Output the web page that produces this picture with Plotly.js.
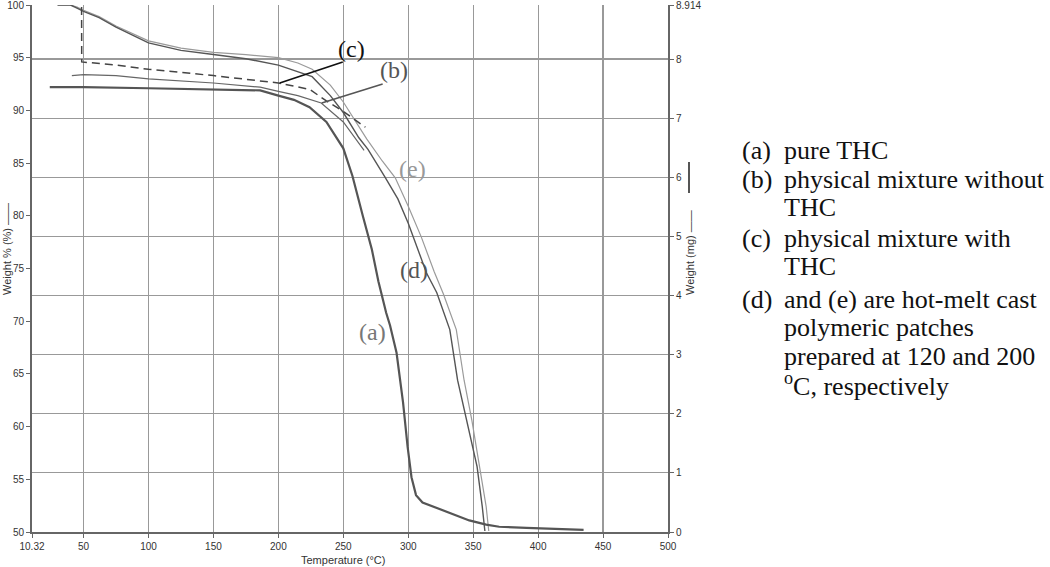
<!DOCTYPE html>
<html>
<head>
<meta charset="utf-8">
<script src="https://cdn.plot.ly/plotly-3.0.1.min.js"></script>
<style>
  html, body { margin: 0; padding: 0; background: #fff; }
  #tga { width: 1050px; height: 567px; }
</style>
</head>
<body>
<div id="tga"></div>
<script>
// TGA curves, temperature (°C) vs weight %
const tempA = [24, 50, 100, 150, 186, 200, 212, 224, 237, 250, 257, 265, 272, 277, 283, 286, 291, 296, 299.5, 302.5, 306, 311, 330, 347, 360, 370, 391, 435];
const wtA   = [92.2, 92.2, 92.1, 92.0, 91.9, 91.4, 91.0, 90.3, 88.9, 86.4, 83.8, 80.0, 76.8, 73.8, 70.8, 69.6, 67.0, 62.3, 58.1, 55.2, 53.5, 52.8, 51.9, 51.1, 50.7, 50.5, 50.4, 50.2];

const tempB = [41, 50, 75, 100, 150, 186, 200, 215, 233, 250, 266];
const wtB   = [93.3, 93.4, 93.3, 93.0, 92.6, 92.2, 91.8, 91.4, 90.7, 88.9, 86.2];

const tempC = [48.5, 48.6, 75, 100, 150, 186, 200, 224, 237, 250, 267];
const wtC   = [99.8, 94.6, 94.3, 93.9, 93.3, 92.8, 92.6, 92.0, 90.9, 89.9, 88.4];

const tempD = [30, 40, 45, 50, 62, 75, 100, 125, 150, 175, 200, 215, 226, 240, 250, 262, 269, 282, 292, 300, 314, 322, 332, 338, 345, 353, 357, 359];
const wtD   = [100, 100, 99.7, 99.4, 98.8, 97.9, 96.4, 95.7, 95.3, 94.9, 94.3, 93.7, 93.2, 91.4, 89.8, 87.4, 86.3, 83.7, 81.6, 79.3, 74.6, 72.7, 69.2, 64.4, 60.6, 56.2, 52.4, 50.1];

const tempE = [30, 40, 45, 50, 62, 75, 100, 125, 150, 175, 200, 215, 226, 240, 250, 260, 268, 280, 290, 300, 310, 320, 327, 337, 343, 349, 355, 360, 362];
const wtE   = [100, 100, 99.8, 99.5, 98.9, 98.0, 96.6, 95.9, 95.5, 95.3, 95.0, 94.5, 93.9, 92.4, 90.8, 88.9, 87.3, 85.2, 83.6, 80.9, 78.0, 74.7, 72.6, 69.2, 64.4, 60.6, 56.2, 52.4, 50.1];

const xTicks = [10.32, 50, 100, 150, 200, 250, 300, 350, 400, 450, 500];
const xTickText = ['10.32', '50', '100', '150', '200', '250', '300', '350', '400', '450', '500'];
const mgTicks = [0, 1, 2, 3, 4, 5, 6, 7, 8, 8.914];
const mgTickText = ['0', '1', '2', '3', '4', '5', '6', '7', '8', '8.914'];

// curve labels: [text, temp, weight, colour]
const curveLabels = [
  ['(c)', 256.5, 95.8, '#111'],
  ['(b)', 288.8, 93.8, '#555'],
  ['(e)', 303.4, 84.4, '#999'],
  ['(d)', 304.2, 74.9, '#555'],
  ['(a)', 272.6, 69.0, '#777']
];
// leader lines: [t0, w0, t1, w1, colour]
const leaders = [
  [201.1, 92.6, 249.6, 94.6, '#111'],
  [233.4, 90.7, 280.3, 92.5, '#555']
];

const keyLabels = ['(a)', '(b)', '', '(c)', '', '(d)', '', '', ''];
const keyText = ['pure THC', 'physical mixture without', 'THC', 'physical mixture with', 'THC',
                 'and (e) are hot-melt cast', 'polymeric patches', 'prepared at 120 and 200',
                 '<sup>o</sup>C, respectively'];
const keyRowPx = [150, 179, 207, 238, 266, 299, 327, 356, 384];

const tickFont = { family: 'Liberation Sans Narrow, Arial Narrow, Liberation Sans, Arial', size: 10, color: '#333' };

function line(x, y, color, width, dash) {
  return { x, y, type: 'scatter', mode: 'lines', hoverinfo: 'skip',
           line: { color, width, dash: dash || 'solid' }, showlegend: false };
}

const data = [
  line(tempE, wtE, '#9a9a9a', 1.2),
  line(tempD, wtD, '#555', 1.4),
  line(tempB, wtB, '#666', 1.2),
  line(tempC, wtC, '#444', 1.5, '8px,5px'),
  line(tempA, wtA, '#555', 2.2),
  // invisible trace so the mg axis is drawn
  { x: [10.32], y: [0], yaxis: 'y2', type: 'scatter', mode: 'markers',
    marker: { opacity: 0 }, hoverinfo: 'skip', showlegend: false }
];

const annotations = [];
curveLabels.forEach(l => {
  annotations.push({ x: l[1], y: l[2], xref: 'x', yref: 'y', text: l[0], showarrow: false,
    font: { family: 'Liberation Serif, Times New Roman, serif', size: 24, color: l[3] } });
});
const shapes = leaders.map(l => ({ type: 'line', xref: 'x', yref: 'y',
  x0: l[0], y0: l[1], x1: l[2], y1: l[3], line: { color: l[4], width: 1.6 } }));

// the key text on the right
const keyFont = { family: 'Liberation Serif, Times New Roman, serif', size: 26, color: '#111' };
keyText.forEach((t, i) => {
  const yPaper = 1 - (keyRowPx[i] - 5) / 527;
  if (keyLabels[i]) {
    annotations.push({ xref: 'paper', yref: 'paper', x: (740 - 32) / 636, y: yPaper,
      xanchor: 'left', yanchor: 'middle', text: keyLabels[i], showarrow: false, font: keyFont });
  }
  annotations.push({ xref: 'paper', yref: 'paper', x: (782 - 32) / 636, y: yPaper,
    xanchor: 'left', yanchor: 'middle', text: t, showarrow: false, font: keyFont });
});

// axis titles
annotations.push({ xref: 'paper', yref: 'paper', x: (7 - 32) / 636, y: 1 - (249 - 5) / 527,
  text: 'Weight % (%) ——', textangle: -90, showarrow: false, xanchor: 'center', yanchor: 'middle',
  font: { family: tickFont.family, size: 11, color: '#333' } });
annotations.push({ xref: 'paper', yref: 'paper', x: (690 - 32) / 636, y: 1 - (253 - 5) / 527,
  text: 'Weight (mg) ——', textangle: -90, showarrow: false, xanchor: 'center', yanchor: 'middle',
  font: { family: tickFont.family, size: 11, color: '#333' } });
annotations.push({ xref: 'paper', yref: 'paper', x: (343 - 32) / 636, y: -(560 - 532) / 527,
  text: 'Temperature (°C)', showarrow: false, xanchor: 'center', yanchor: 'middle',
  font: { family: tickFont.family, size: 11, color: '#333' } });
shapes.push({ type: 'line', xref: 'paper', yref: 'paper',
  x0: (689 - 32) / 636, x1: (689 - 32) / 636, y0: 1 - (162 - 5) / 527, y1: 1 - (193 - 5) / 527,
  line: { color: '#555', width: 2 } });

const layout = {
  width: 1050, height: 567,
  margin: { l: 32, r: 382, t: 5, b: 35 },
  paper_bgcolor: '#fff', plot_bgcolor: '#fff',
  showlegend: false,
  xaxis: {
    range: [10.32, 500], tickvals: xTicks, ticktext: xTickText,
    showgrid: true, gridcolor: '#999', gridwidth: 1.2, zeroline: false,
    showline: true, linecolor: '#666', linewidth: 2, ticks: 'outside', ticklen: 4, tickcolor: '#666',
    tickfont: tickFont, ticklabeloverflow: 'allow'
  },
  yaxis: {
    range: [50, 100], dtick: 5, tick0: 50, showgrid: false, zeroline: false,
    showline: true, linecolor: '#666', linewidth: 2, ticks: 'outside', ticklen: 4, tickcolor: '#666',
    tickfont: tickFont, ticklabeloverflow: 'allow'
  },
  yaxis2: {
    overlaying: 'y', side: 'right', range: [0, 8.914], tickvals: mgTicks, ticktext: mgTickText,
    showgrid: true, gridcolor: '#999', gridwidth: 1.2, zeroline: false,
    showline: true, linecolor: '#666', linewidth: 2, ticks: 'outside', ticklen: 4, tickcolor: '#666',
    tickfont: tickFont, ticklabeloverflow: 'allow'
  },
  annotations, shapes
};

Plotly.newPlot('tga', data, layout, { staticPlot: true });
</script>
</body>
</html>
